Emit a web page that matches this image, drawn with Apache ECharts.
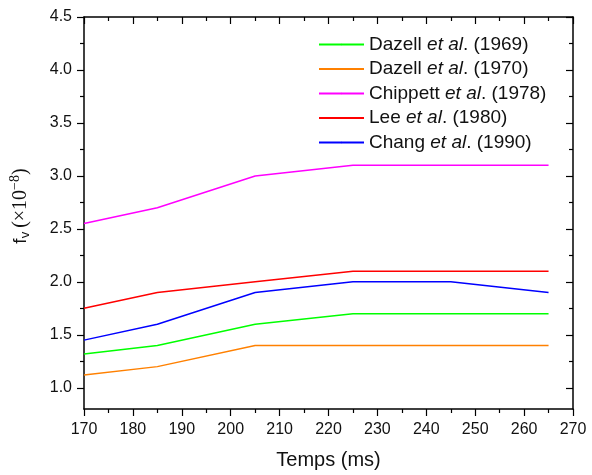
<!DOCTYPE html>
<html><head><meta charset="utf-8">
<script src="https://cdn.jsdelivr.net/npm/echarts@6/dist/echarts.min.js"></script>
<style>html,body{margin:0;padding:0;background:#fff}#c{width:592px;height:475px}</style>
</head><body><div id="c"></div>
<script>
const times = [170, 185, 205, 225, 245, 265];
const dazell1969 = [1.32, 1.40, 1.60, 1.70, 1.70, 1.70];
const dazell1970 = [1.12, 1.20, 1.40, 1.40, 1.40, 1.40];
const chippett1978 = [2.55, 2.70, 3.00, 3.10, 3.10, 3.10];
const lee1980 = [1.75, 1.90, 2.00, 2.10, 2.10, 2.10];
const chang1990 = [1.45, 1.60, 1.90, 2.00, 2.00, 1.90];
const seriesNames = ['Dazell et al. (1969)', 'Dazell et al. (1970)', 'Chippett et al. (1978)', 'Lee et al. (1980)', 'Chang et al. (1990)'];
const seriesColors = ['#00ff00', '#ff8000', '#ff00ff', '#ff0000', '#0000ff'];
const yMajor = [1.0, 1.5, 2.0, 2.5, 3.0, 3.5, 4.0, 4.5];
const yMinor = [1.25, 1.75, 2.25, 2.75, 3.25, 3.75, 4.25];

const F = 'Liberation Sans, Arial, sans-serif';
const FS = 'Liberation Serif, Times New Roman, serif';
const seriesData = [dazell1969, dazell1970, chippett1978, lee1980, chang1990];

function pairs(vals){ return times.map((t,i)=>[t, vals[i]]); }

const yBase = {type:'value', min:0.8, max:4.5, splitLine:{show:false}};
const axLine = {show:true, lineStyle:{color:'#000', width:1.5}};
const TC = '#111';

const option = {
  animation:false,
  backgroundColor:'#fff',
  grid:{left:84, right:19, top:17, bottom:64},
  legend:{
    orient:'vertical', left:313, top:30, itemWidth:45, itemHeight:2, itemGap:5.5,
    data: seriesNames,
    formatter: function(name){
      const m = name.match(/^(\S+) et al\. (.*)$/);
      return '{n|' + m[1] + ' }{i|et al}{n|. ' + m[2] + '}';
    },
    textStyle:{fontFamily:F, fontSize:19, color:TC,
      rich:{n:{fontFamily:F, fontSize:19, color:TC}, i:{fontFamily:F, fontSize:19, fontStyle:'italic', color:TC}}}
  },
  xAxis:[
    {type:'value', position:'bottom', min:170, max:270, interval:10,
     axisLine:axLine, axisTick:{show:true, length:7, lineStyle:{color:'#000', width:1.2}},
     minorTick:{show:true, splitNumber:2, length:4, lineStyle:{color:'#000', width:1.2}},
     axisLabel:{fontFamily:F, fontSize:16, color:TC, margin:13},
     splitLine:{show:false},
     name:'Temps (ms)', nameLocation:'middle', nameGap:41,
     nameTextStyle:{fontFamily:F, fontSize:20, color:TC}},
    {type:'value', position:'top', min:170, max:270, interval:10,
     axisLine:axLine, axisTick:{show:true, inside:true, length:7, lineStyle:{color:'#000', width:1.2}},
     minorTick:{show:true, splitNumber:2, length:4, lineStyle:{color:'#000', width:1.2}},
     axisLabel:{show:false}, splitLine:{show:false}}
  ],
  yAxis:[
    Object.assign({}, yBase, {position:'left', axisLine:axLine,
      axisTick:{show:true, length:7, customValues:yMajor, lineStyle:{color:'#000', width:1.2}},
      axisLabel:{fontFamily:F, fontSize:16, color:TC, margin:12, customValues:yMajor,
        formatter:v=>v.toFixed(1)},
      name:'{a|f}{s|v}{b|(×10}{p|−8}{b|)}', nameLocation:'middle', nameGap:51, nameRotate:90,
      nameTextStyle:{fontFamily:F, fontSize:19, color:TC, padding:[0,0,0,14],
        rich:{a:{fontFamily:F, fontSize:19, color:TC},
              b:{fontFamily:FS, fontSize:20, color:TC},
              s:{fontFamily:F, fontSize:13, color:TC, padding:[10,4,0,0]},
              p:{fontFamily:FS, fontSize:14, color:TC, padding:[0,0,11,0]}}}}),
    Object.assign({}, yBase, {position:'left', axisLine:{show:false},
      axisTick:{show:true, length:4, customValues:yMinor, lineStyle:{color:'#000', width:1.2}},
      axisLabel:{show:false}}),
    Object.assign({}, yBase, {position:'right', axisLine:axLine,
      axisTick:{show:true, inside:true, length:7, customValues:yMajor, lineStyle:{color:'#000', width:1.2}},
      axisLabel:{show:false, customValues:yMajor}}),
    Object.assign({}, yBase, {position:'right', axisLine:{show:false},
      axisTick:{show:true, inside:true, length:4, customValues:yMinor, lineStyle:{color:'#000', width:1.2}},
      axisLabel:{show:false}})
  ],
  series: seriesNames.map((n,i)=>({
    name:n, type:'line', data:pairs(seriesData[i]), symbol:'none', xAxisIndex:0, yAxisIndex:0,
    lineStyle:{color:seriesColors[i], width:1.5}, itemStyle:{color:seriesColors[i]}
  }))
};
echarts.init(document.getElementById('c')).setOption(option);
</script></body></html>
